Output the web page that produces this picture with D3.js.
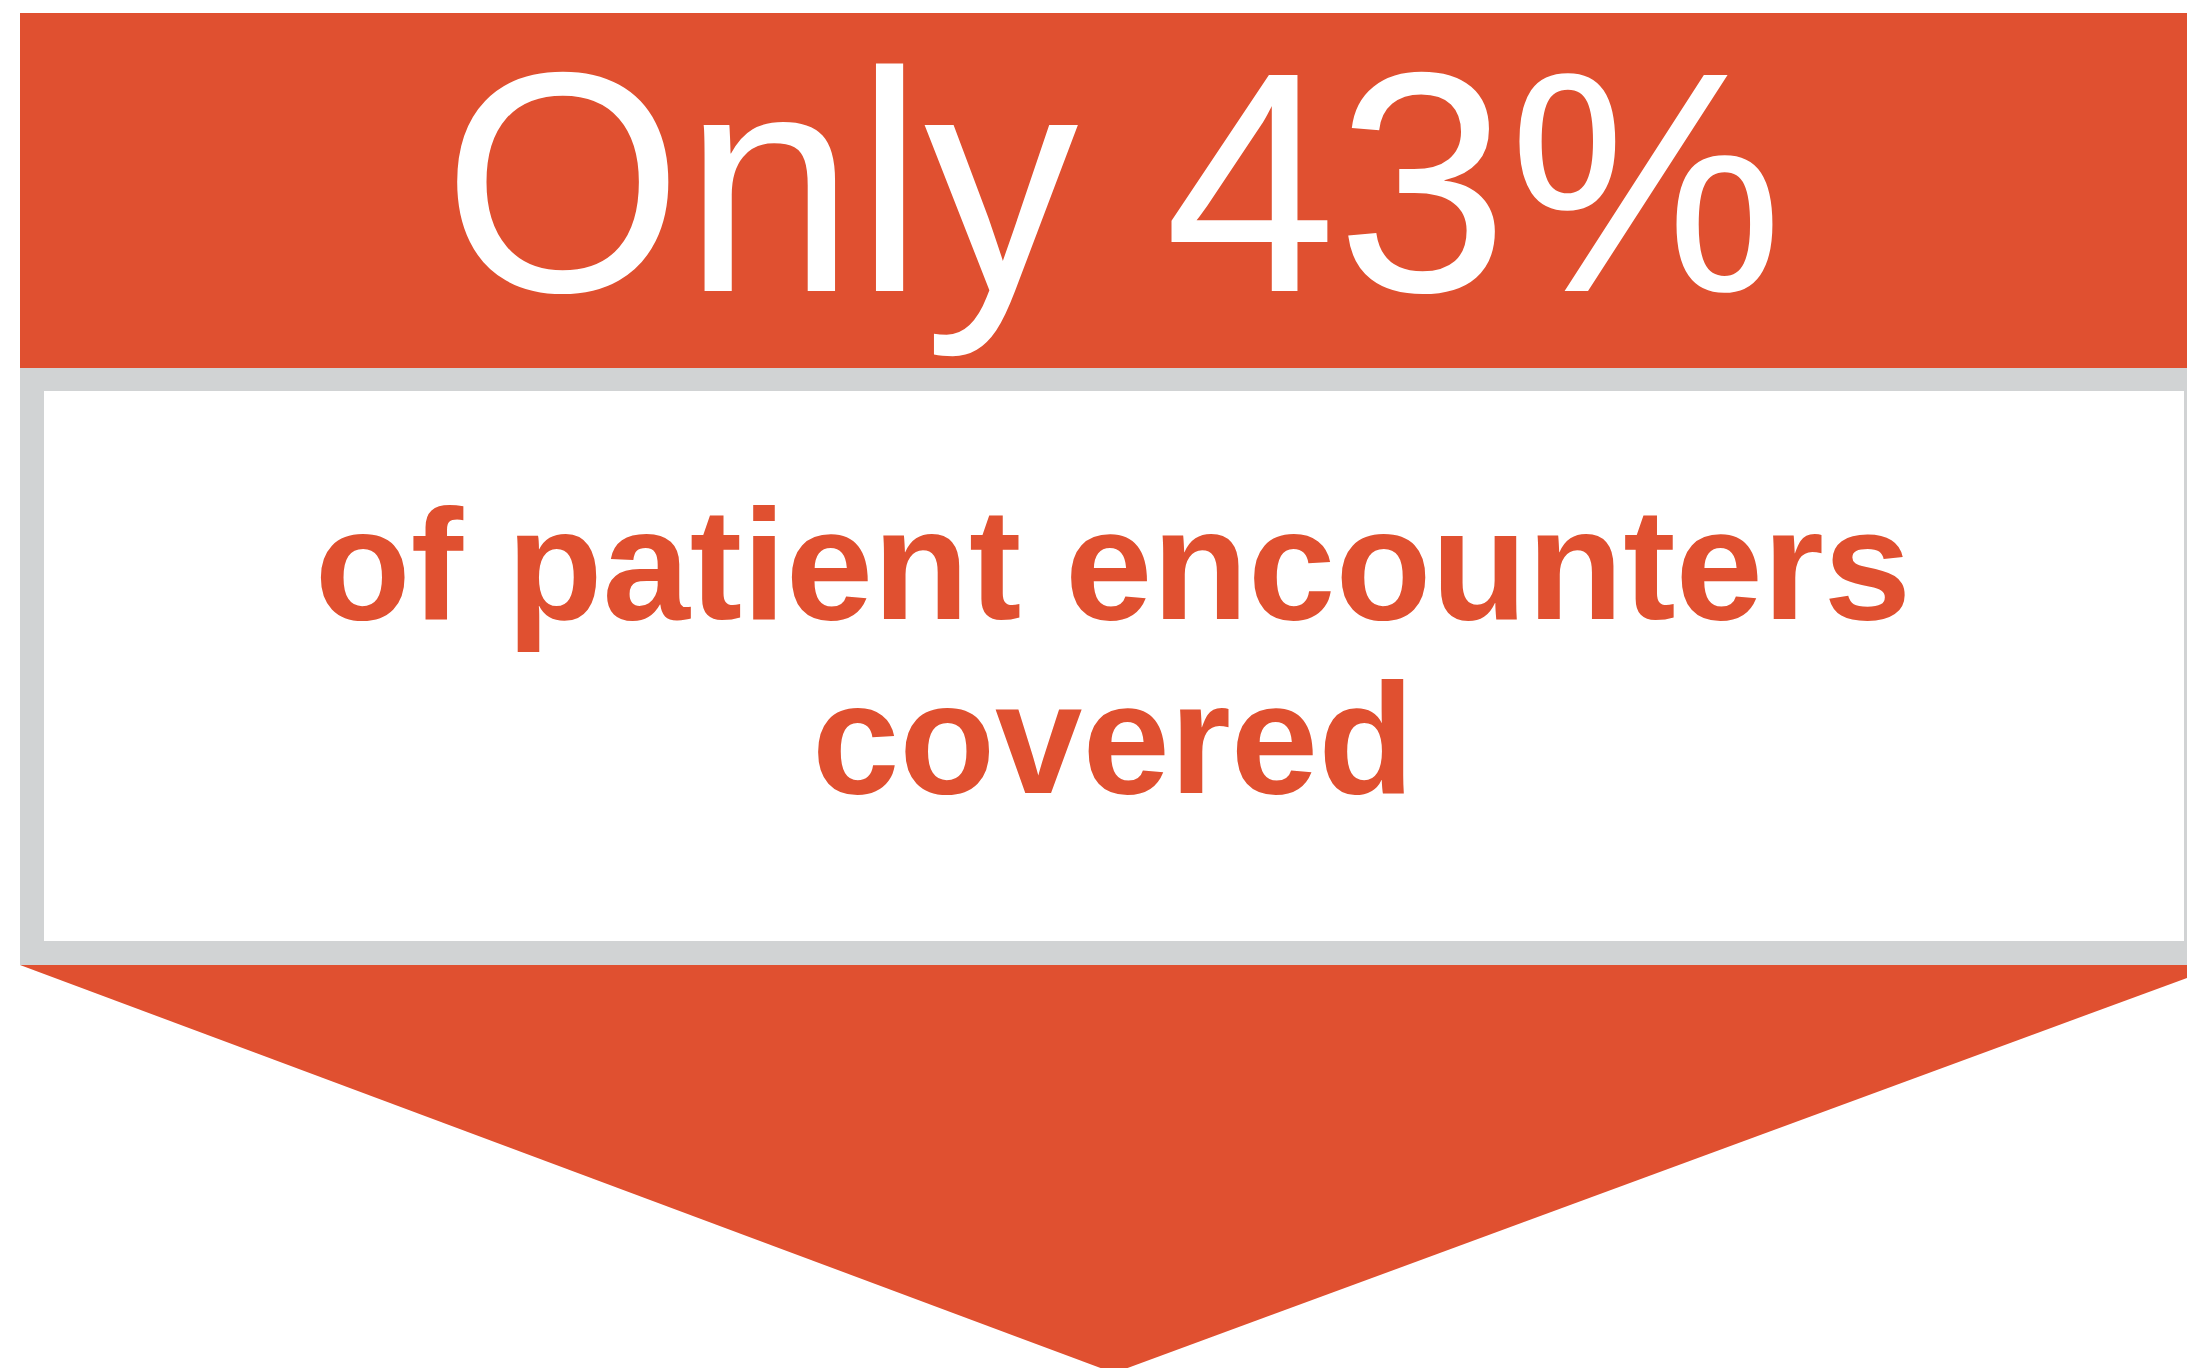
<!DOCTYPE html>
<html>
<head>
<meta charset="utf-8">
<script src="https://cdn.jsdelivr.net/npm/d3@7"></script>
<style>
  body { margin: 0; background: #fff; }
</style>
</head>
<body>
<div id="callout"></div>
<script>
// Values
const headlineWords = ["Only"];
const shareCovered = [43];
const subtitleLines = ["of patient encounters", "covered"];

const width = 2187;
const height = 1368;
const orange = "#e05030";
const gray = "#d1d3d4";

const svg = d3
  .select("#callout")
  .append("svg")
  .attr("width", width)
  .attr("height", height);

// Frame geometry
const frame = { left: 20, right: 2208, top: 13, bandBottom: 368, bottom: 965, border: 24 };
const cx = 1113;

// Top orange band
svg.append("rect")
  .attr("x", frame.left)
  .attr("y", frame.top)
  .attr("width", frame.right - frame.left)
  .attr("height", frame.bandBottom - frame.top)
  .attr("fill", orange);

// Gray box with white inside
svg.append("rect")
  .attr("x", frame.left)
  .attr("y", frame.bandBottom)
  .attr("width", frame.right - frame.left)
  .attr("height", frame.bottom - frame.bandBottom)
  .attr("fill", gray);

svg.append("rect")
  .attr("x", frame.left + frame.border)
  .attr("y", frame.bandBottom + 23)
  .attr("width", frame.right - frame.left - frame.border * 2)
  .attr("height", frame.bottom - frame.bandBottom - 23 - frame.border)
  .attr("fill", "#fff");

// Arrow pointing down
const arrow = [[frame.left, frame.bottom], [2222, frame.bottom], [1114, 1373]];
svg.append("path")
  .attr("d", d3.line()(arrow) + "Z")
  .attr("fill", orange);

// Headline (slightly narrowed to match the original face)
svg.append("text")
  .attr("transform", `translate(${cx},291) scale(0.985,1)`)
  .attr("text-anchor", "middle")
  .attr("font-family", "'Liberation Sans', Arial, sans-serif")
  .attr("font-size", "314px")
  .attr("fill", "#fff")
  .text(`${headlineWords.join(" ")} ${shareCovered[0]}%`);

// Subtitle lines
const lineY = d3.scalePoint().domain(subtitleLines).range([619, 793]);

svg.selectAll(".sub")
  .data(subtitleLines)
  .enter()
  .append("text")
  .attr("class", "sub")
  .attr("x", cx)
  .attr("y", (d) => lineY(d))
  .attr("text-anchor", "middle")
  .attr("font-family", "'Liberation Sans', Arial, sans-serif")
  .attr("font-weight", "bold")
  .attr("font-size", "157px")
  .attr("fill", orange)
  .text((d) => d);
</script>
</body>
</html>
